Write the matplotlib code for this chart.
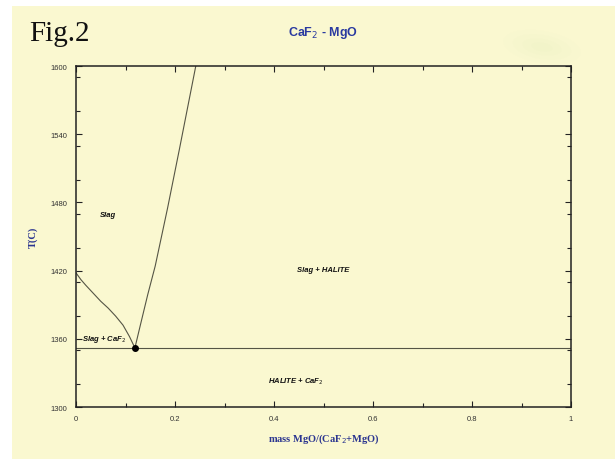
import numpy as np
import matplotlib.pyplot as plt
from matplotlib.patches import Ellipse, Rectangle
from matplotlib.ticker import MultipleLocator, FixedLocator

# liquidus of CaF2 (left branch) and of MgO / halite (right branch)
caf2_x = [0.0, 0.01, 0.02, 0.035, 0.05, 0.065, 0.08, 0.095, 0.108, 0.119]
caf2_T = [1418, 1412, 1407, 1400, 1393, 1387, 1380, 1372, 1362, 1352]
halite_x = [0.119, 0.13, 0.145, 0.160, 0.185, 0.209, 0.242]
halite_T = [1352, 1372, 1399, 1424, 1475, 1527, 1600]
eut_x, eut_T = 0.119, 1352

regions = ["Slag", "Slag + HALITE", r"Slag + CaF$_2$", r"HALITE + CaF$_2$"]
region_x = [0.065, 0.50, 0.056, 0.445]
region_T = [1469, 1421, 1360, 1323]

xticks = [0, 0.2, 0.4, 0.6, 0.8, 1]
xtick_labels = ["0", "0.2", "0.4", "0.6", "0.8", "1"]
yticks = [1300, 1360, 1420, 1480, 1540, 1600]

bg = "#faf8d0"
blue = "#2b3590"

fig = plt.figure(figsize=(6.15, 4.6), dpi=100)
fig.patch.set_facecolor("white")
fig.add_artist(Rectangle((12 / 615, 0), 1, 1 - 7 / 460, transform=fig.transFigure,
                         facecolor=bg, edgecolor="none", zorder=-2))
# faint greenish smudge at the top right
for w, a in [(80, 0.025), (60, 0.03), (40, 0.035), (22, 0.04)]:
    fig.add_artist(Ellipse((542 / 615, 1 - 48 / 460), w / 615, w * 0.4 / 460,
                           angle=-15, transform=fig.transFigure,
                           facecolor="#cfe0a8", edgecolor="none", alpha=a, zorder=-1))

ax = fig.add_axes([76 / 615, 1 - 408 / 460, 495 / 615, 341 / 460])
ax.set_zorder(1)
ax.patch.set_alpha(0)

ax.plot(caf2_x, caf2_T, color="#555545", lw=0.8)
ax.plot(halite_x, halite_T, color="#555545", lw=0.8)
ax.axhline(eut_T, color="#555545", lw=0.8)
ax.plot(eut_x, eut_T, "o", color="black", ms=4)

for txt, x, t in zip(regions, region_x, region_T):
    ax.text(x, t, txt, fontsize=5.5, fontweight="bold", fontstyle="italic",
            family="Liberation Sans", ha="center", va="center", color="#111111")

ax.set_xlim(0, 1)
ax.set_ylim(1300, 1600)
ax.xaxis.set_major_locator(FixedLocator(xticks))
ax.set_xticklabels(xtick_labels)
ax.xaxis.set_minor_locator(MultipleLocator(0.1))
ax.yaxis.set_major_locator(FixedLocator(yticks))
ax.yaxis.set_minor_locator(MultipleLocator(30))
ax.tick_params(which="both", direction="in", top=True, right=True, width=0.8,
               color="#222222", labelsize=5.5, labelcolor="#333333", pad=6)
ax.tick_params(which="major", length=4)
ax.tick_params(which="minor", length=3)
for lab in ax.get_xticklabels() + ax.get_yticklabels():
    lab.set_family("Liberation Sans")
for s in ax.spines.values():
    s.set_linewidth(1.1)
    s.set_color("#222222")

ax.set_xlabel(r"mass MgO/(CaF$_2$+MgO)", family="Liberation Serif", fontweight="bold",
              fontsize=7.5, color=blue)
ax.set_ylabel("T(C)", family="Liberation Serif", fontweight="bold",
              fontsize=7.5, color=blue)
ax.xaxis.set_label_coords(0.5, -25 / 341)
ax.yaxis.set_label_coords(-38 / 495, 0.5)

fig.text(323 / 615, 1 - 33 / 460, r"CaF$_2$ - MgO", family="Liberation Sans",
         fontweight="bold", fontsize=9, color="#2a3aa0", ha="center", va="center")
fig.text(29 / 615, 1 - 34 / 460, "Fig.2", family="Liberation Serif",
         fontsize=21, color="#111111", ha="left", va="center")

fig.savefig("out.png", dpi=100, facecolor=fig.get_facecolor())
